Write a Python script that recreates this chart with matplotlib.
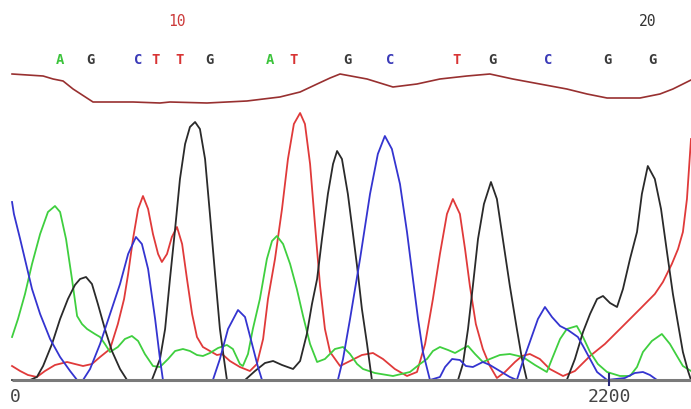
import matplotlib
matplotlib.use("Agg")
import matplotlib.pyplot as plt

# ---- data (scan position, signal amplitude) ----
blue_x = [-11, -4, 19, 41, 63, 93, 130, 167, 204, 230, 252, 278, 315, 352, 389, 419, 448, 470, 493, 519, 537, 548,
          733, 759, 789, 826, 852, 878, 900, 915, 1196, 1215, 1241, 1278, 1315, 1344, 1370, 1396, 1426, 1452, 1474,
          1493, 1511, 1537, 1574, 1593, 1619, 1648, 1670, 1696, 1733, 1759, 1796, 1833, 1859, 1878, 1907, 1937, 1963,
          1989, 2019, 2048, 2085, 2104, 2130, 2156, 2193, 2259, 2296, 2326, 2352, 2378, 2504]
blue_y = [178, 166, 141, 116, 91, 66, 41, 23, 9, 0, 0, 11, 36, 66, 96, 126, 143, 136, 111, 61, 21, 0,
          0, 21, 51, 70, 63, 36, 13, 0, 0, 21, 61, 121, 186, 226, 244, 231, 196, 148, 101,
          61, 28, 0, 3, 13, 21, 20, 14, 13, 18, 15, 9, 3, 0, 16, 38, 61, 73,
          63, 54, 50, 43, 34, 21, 8, 0, 2, 7, 8, 5, 0, 0]

green_x = [-11, 11, 37, 63, 93, 122, 148, 167, 189, 211, 230, 248, 267, 296, 315, 333, 352, 381, 407, 433, 456, 481,
           511, 537, 567, 593, 622, 648, 674, 696, 722, 752, 785, 807, 833, 844, 863, 881, 907, 933, 952, 970, 993,
           1019, 1044, 1067, 1093, 1119, 1148, 1185, 1215, 1241, 1267, 1289, 1333, 1400, 1463, 1500, 1526, 1548,
           1574, 1604, 1630, 1656, 1678, 1704, 1733, 1759, 1796, 1833, 1881, 1926, 1970, 1989, 2019, 2044, 2081,
           2104, 2130, 2159, 2193, 2241, 2278, 2304, 2326, 2359, 2396, 2426, 2452, 2474, 2504]
green_y = [43, 61, 86, 116, 146, 168, 174, 168, 141, 101, 64, 56, 51, 46, 43, 36, 28, 33, 41, 44, 39, 26,
           14, 13, 21, 29, 31, 29, 25, 24, 27, 32, 35, 31, 16, 14, 26, 51, 81, 121, 139, 144, 136,
           116, 91, 64, 36, 18, 21, 31, 33, 26, 16, 11, 7, 4, 8, 16, 21, 29,
           33, 30, 27, 31, 34, 26, 18, 21, 25, 26, 23, 15, 8, 21, 41, 51, 54,
           43, 28, 16, 8, 4, 4, 13, 28, 39, 46, 36, 24, 14, 9]

black_x = [-11, 56, 81, 104, 137, 167, 196, 222, 241, 263, 285, 307, 333, 359, 389, 415, 507, 537, 556, 574, 593,
           611, 630, 648, 667, 685, 704, 722, 741, 759, 774, 785, 852, 889, 926, 956, 989, 1030, 1056, 1081, 1100,
           1119, 1137, 1159, 1178, 1193, 1211, 1233, 1252, 1267, 1285, 1304, 1322, 1641, 1659, 1678, 1696, 1715,
           1737, 1763, 1785, 1807, 1833, 1859, 1878, 1896, 2044, 2074, 2104, 2130, 2156, 2178, 2204, 2230, 2252,
           2278, 2304, 2322, 2344, 2370, 2393, 2415, 2437, 2456, 2474, 2493, 2504]
black_y = [0, 0, 3, 14, 36, 61, 81, 95, 101, 103, 96, 76, 51, 29, 11, 0, 0, 21, 51, 101, 151,
           201, 236, 253, 258, 251, 221, 166, 106, 51, 21, 0, 0, 9, 17, 19, 15, 11, 19, 46, 76,
           101, 141, 186, 216, 229, 221, 186, 146, 114, 71, 36, 0, 0, 16, 51, 94, 141,
           176, 198, 181, 141, 94, 51, 21, 0, 0, 21, 48, 66, 81, 84, 77, 73, 91,
           121, 148, 186, 214, 201, 171, 128, 86, 56, 28, 9, 0]

red_x = [-11, 19, 48, 81, 111, 148, 193, 222, 252, 285, 315, 352, 381, 404, 419, 437, 456, 474, 493, 511, 530, 544,
         563, 581, 600, 619, 637, 656, 674, 696, 722, 748, 767, 796, 833, 870, 896, 919, 937, 963, 989, 1011, 1033,
         1056, 1074, 1093, 1111, 1130, 1148, 1167, 1204, 1241, 1285, 1326, 1363, 1407, 1452, 1489, 1519, 1548,
         1574, 1600, 1622, 1648, 1667, 1685, 1707, 1733, 1759, 1785, 1815, 1852, 1878, 1907, 1944, 1981, 2030,
         2074, 2130, 2185, 2252, 2315, 2370, 2400, 2433, 2456, 2474, 2489, 2504]
red_y = [14, 9, 5, 3, 9, 15, 18, 16, 14, 16, 23, 31, 56, 81, 106, 141, 171, 184, 171, 146, 126, 118,
         126, 143, 153, 136, 101, 66, 43, 33, 29, 25, 26, 19, 13, 9, 16, 41, 81, 121, 171, 221, 256,
         267, 256, 216, 156, 94, 51, 28, 14, 19, 25, 27, 21, 11, 4, 8, 36, 81,
         126, 166, 181, 166, 131, 94, 56, 31, 14, 2, 8, 18, 24, 26, 21, 11, 4,
         9, 24, 36, 54, 71, 86, 98, 116, 131, 148, 181, 241]

qual_x = [-11, 104, 141, 178, 215, 289, 437, 537, 574, 711, 859, 981, 1056, 1119, 1167, 1204, 1304, 1400, 1489,
          1574, 1674, 1759, 1844, 1944, 2044, 2119, 2193, 2315, 2389, 2437, 2504]
qual_y = [35, 33, 30, 28, 20, 7, 7, 6, 7, 6, 8, 12, 17, 25, 31, 35, 30, 22, 25,
          30, 33, 35, 30, 25, 20, 15, 11, 11, 15, 20, 29]

base_calls = ["A", "G", "C", "T", "T", "G", "A", "T", "G", "C", "T", "G", "C", "G", "G"]
base_pos = [167, 278, 456, 519, 611, 722, 944, 1030, 1230, 1389, 1637, 1770, 1974, 2193, 2363]
base_numbers = ["10", "20"]
base_number_pos = [600, 2344]
tick_values = [0, 2200]

# ---- style ----
col = {"A": "#3fcf3f", "C": "#3434d0", "G": "#2a2a2a", "T": "#e03a3a"}
letter_col = {"A": "#3cc43c", "C": "#3a3ab8", "G": "#3a3a3a", "T": "#d83434"}
number_col = ["#cc3a3a", "#333333"]

fig = plt.figure(figsize=(6.91, 4.10), dpi=100)
ax = fig.add_axes([0, 0, 1, 1])
ax.set_xlim(-55.6, 2504)
ax.set_ylim(-29, 381)
ax.axis("off")

lw = 1.3
ax.plot(red_x, red_y, color=col["T"], lw=lw, zorder=3)
ax.plot(green_x, green_y, color=col["A"], lw=lw, zorder=3)
ax.plot(black_x, black_y, color=col["G"], lw=lw, zorder=3)
ax.plot(blue_x, blue_y, color=col["C"], lw=lw, zorder=3)

# baseline
ax.plot([-11, 2504], [0, 0], color="#7a7a7a", lw=2.2, zorder=4, solid_capstyle="butt")
ax.plot([2200, 2200], [-5, 6], color="#2a2a7a", lw=1.5, zorder=5)

for v in tick_values:
    ax.text(v, -16, str(v), ha="center", va="center", fontsize=13,
            family="DejaVu Sans Mono", color="#444444")

# quality track
qax = fig.add_axes([0, (410 - 110) / 410, 1, 50 / 410])
qax.set_xlim(-55.6, 2504)
qax.set_ylim(0, 50)
qax.axis("off")
qax.plot(qual_x, qual_y, color="#983030", lw=1.2)

# base calls and numbering
for b, p in zip(base_calls, base_pos):
    fig.text((p + 55.6) / (2504 + 55.6), 1 - 60 / 410, b, ha="center", va="center",
             fontsize=10, family="DejaVu Sans Mono", fontweight="bold", color=letter_col[b])
for n, p, c in zip(base_numbers, base_number_pos, number_col):
    fig.text((p + 55.6) / (2504 + 55.6), 1 - 22 / 410, n, ha="center", va="center",
             fontsize=10.5, family="DejaVu Sans Mono", color=c)

fig.savefig("out.png", dpi=100)
